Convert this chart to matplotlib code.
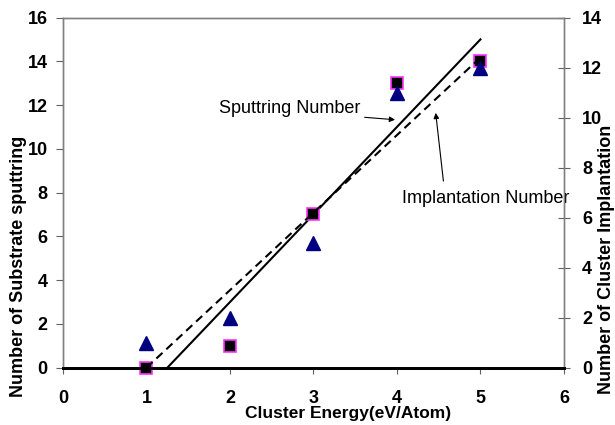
import matplotlib.pyplot as plt
import numpy as np

plt.rcParams['font.family'] = ['Liberation Sans', 'DejaVu Sans']

# cluster energy and the two measured counts
energy = [1, 2, 3, 4, 5]
sputtering = [0, 1, 7, 13, 14]       # left axis, squares
implantation = [1, 2, 5, 11, 12]     # right axis, triangles

fig = plt.figure(figsize=(6.15, 4.25), dpi=100)
ax = fig.add_axes([0.1024, 0.1348, 0.8146, 0.824])
ax2 = ax.twinx()

# linear trendlines
xs = np.array([energy[0], energy[-1]])
p1 = np.polyfit(energy, sputtering, 1)
p2 = np.polyfit(energy, implantation, 1)
ax.plot(xs, np.polyval(p1, xs), color='black', lw=1.5, zorder=2)
ax2.plot(xs, np.polyval(p2, xs), color='black', lw=1.5, ls=(0, (4, 2.5)), zorder=2)

ax.plot(energy, sputtering, 's', ms=8, mfc='black', mec='#ff33ff', mew=1.2, zorder=4, clip_on=False)
ax2.plot(energy, implantation, '^', ms=10, color='#000080', zorder=3, clip_on=False)

ax.set_xlim(0, 6)
ax.set_ylim(0, 16)
ax2.set_ylim(0, 14)
ax.set_xticks(range(0, 7))
ax.set_yticks(range(0, 17, 2))
ax2.set_yticks(range(0, 15, 2))

for a in (ax, ax2):
    for s in ('left', 'right', 'top'):
        a.spines[s].set_color('#808080')
        a.spines[s].set_linewidth(1)
    a.spines['bottom'].set_color('black')
    a.spines['bottom'].set_linewidth(2)
    a.set_facecolor('none')

ax.tick_params(axis='y', direction='out', length=5, color='#606060', labelsize=13, pad=6)
ax.tick_params(axis='x', direction='out', length=4, color='#606060', labelsize=13, pad=12)
ax2.tick_params(axis='y', direction='inout', length=8, color='#606060', labelsize=13, pad=9)
for lab in ax.get_xticklabels() + ax.get_yticklabels() + ax2.get_yticklabels():
    lab.set_fontweight('bold')

ax.set_xlabel('Cluster Energy(eV/Atom)', fontsize=12.5, fontweight='bold')
ax.xaxis.set_label_coords(0.57, -0.11)
ax.set_ylabel('Number of Substrate sputtring', fontsize=13, fontweight='bold')
ax.yaxis.set_label_coords(-0.072, 0.29)
ax2.set_ylabel('Number of Cluster Implantation', fontsize=13, fontweight='bold')
ax2.yaxis.set_label_coords(1.068, 0.31)

ax.text(1.87, 11.86, 'Sputtring Number', fontsize=13, ha='left', va='center')
ax.annotate('', xy=(4.01, 11.32), xytext=(3.58, 11.45),
            arrowprops=dict(arrowstyle='-|>', color='black', lw=0.8, mutation_scale=8))
ax.text(4.06, 7.74, 'Implantation Number', fontsize=13, ha='left', va='center', clip_on=False)
ax.annotate('', xy=(4.46, 11.77), xytext=(4.56, 8.4),
            arrowprops=dict(arrowstyle='-|>', color='black', lw=0.8, mutation_scale=8))

fig.savefig('out.png', dpi=100)
